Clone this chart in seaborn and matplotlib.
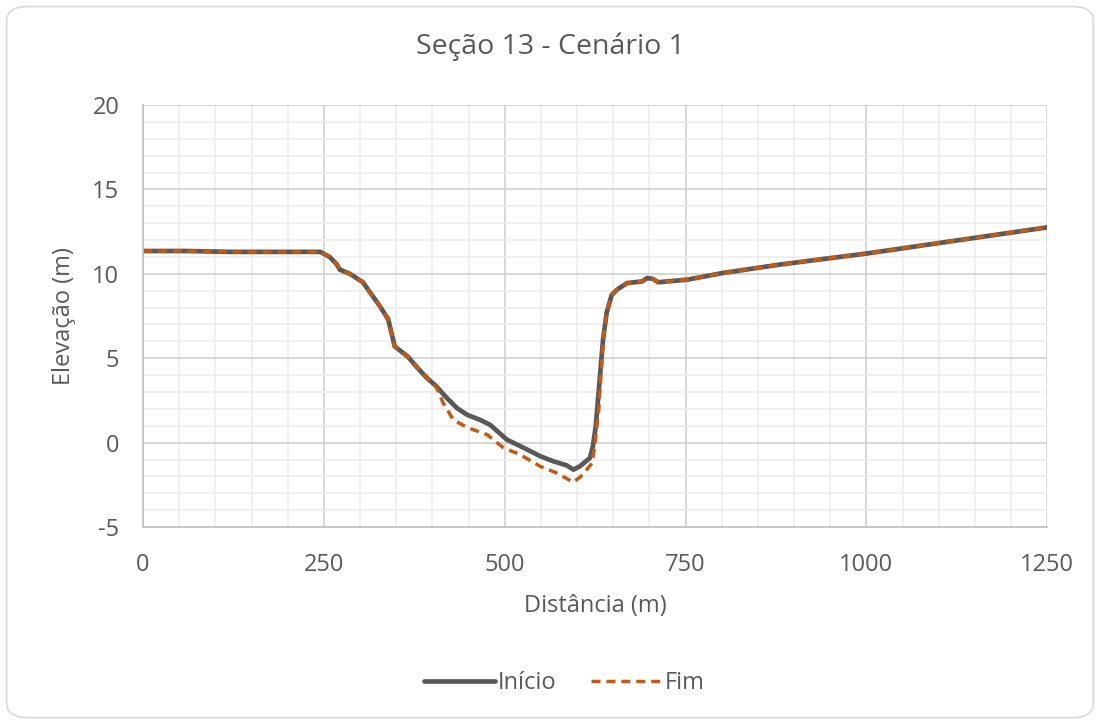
import numpy as np
import pandas as pd
import matplotlib
matplotlib.use("Agg")
import matplotlib.pyplot as plt
from matplotlib.patches import FancyBboxPatch
from matplotlib.ticker import MultipleLocator, FuncFormatter
import seaborn as sns

# === Data ===
inicio_x = [0, 60, 120, 180, 245, 258, 268, 272, 286, 304, 318, 328, 339, 348, 366,
            378, 392, 404, 420, 434, 448, 466, 480, 503, 526, 549, 567, 586, 595,
            604, 618, 622, 626, 629, 636, 641, 648, 655, 669, 690, 697, 705, 712,
            752, 802, 881, 1000, 1250]
inicio_y = [11.35, 11.35, 11.3, 11.3, 11.3, 11.0, 10.55, 10.25, 10.0, 9.5, 8.65, 8.05,
            7.3, 5.7, 5.1, 4.5, 3.85, 3.4, 2.65, 2.05, 1.65, 1.35, 1.05, 0.18, -0.3,
            -0.8, -1.1, -1.35, -1.6, -1.4, -0.9, -0.2, 1.0, 2.55, 6.1, 7.7, 8.75,
            9.05, 9.45, 9.55, 9.75, 9.7, 9.5, 9.65, 10.05, 10.55, 11.2, 12.75]

fim_x = [0, 60, 120, 180, 245, 258, 268, 272, 286, 304, 318, 328, 339, 348, 366,
         378, 392, 400, 406, 415, 429, 448, 476, 498, 521, 549, 572, 595, 608,
         621, 625, 630, 636, 641, 648, 655, 669, 690, 697, 705, 712, 752, 802,
         881, 1000, 1250]
fim_y = [11.35, 11.35, 11.3, 11.3, 11.3, 11.0, 10.55, 10.25, 10.0, 9.5, 8.65, 8.05,
         7.3, 5.7, 5.1, 4.5, 3.85, 3.55, 3.25, 2.35, 1.35, 0.9, 0.47, -0.3, -0.7,
         -1.4, -1.8, -2.35, -1.9, -1.2, 0.0, 1.95, 6.0, 7.7, 8.75, 9.05, 9.45, 9.55,
         9.75, 9.7, 9.5, 9.65, 10.05, 10.55, 11.2, 12.75]

TITLE = "Seção 13 - Cenário 1"
XLABEL = "Distância (m)"
YLABEL = "Elevação (m)"
LABELS = ["Início", "Fim"]

# === Style ===
sns.set_style("white")
plt.rcParams["font.family"] = ["Open Sans", "DejaVu Sans"]
TXT = "#595959"

df_inicio = pd.DataFrame({"x": inicio_x, "y": inicio_y})
df_fim = pd.DataFrame({"x": fim_x, "y": fim_y})

fig = plt.figure(figsize=(11, 7.22), dpi=100)
ax = fig.add_axes([0.130, 0.270, 0.822, 0.5846])

sns.lineplot(data=df_inicio, x="x", y="y", ax=ax, sort=False, color="#595959",
             linewidth=3.4, label=LABELS[0], solid_capstyle="round")
sns.lineplot(data=df_fim, x="x", y="y", ax=ax, sort=False, color="#c55a11",
             linewidth=2.5, linestyle=(0, (2.6, 1.7)), label=LABELS[1])

ax.set_xlim(0, 1250)
ax.set_ylim(-5, 20)
ax.xaxis.set_major_locator(MultipleLocator(250))
ax.xaxis.set_minor_locator(MultipleLocator(50))
ax.yaxis.set_major_locator(MultipleLocator(5))
ax.yaxis.set_minor_locator(MultipleLocator(1))
ax.yaxis.set_major_formatter(FuncFormatter(lambda v, p: f"{v:g}"))
ax.xaxis.set_major_formatter(FuncFormatter(lambda v, p: f"{v:g}"))
ax.grid(which="major", color="#d4d4d4", linewidth=1.3)
ax.grid(which="minor", color="#ececec", linewidth=1.1)
ax.set_axisbelow(True)
for s in ["top", "right"]:
    ax.spines[s].set_visible(False)
for s in ["left", "bottom"]:
    ax.spines[s].set_color("#bfbfbf")
    ax.spines[s].set_linewidth(1.2)
ax.tick_params(which="both", length=0, labelsize=17, colors=TXT)
ax.tick_params(axis="x", pad=19)
ax.tick_params(axis="y", pad=17)

ax.set_xlabel(XLABEL, fontsize=17, color=TXT, labelpad=12)
ax.set_ylabel(YLABEL, fontsize=17, color=TXT, labelpad=12)
fig.text(0.5, 1 - 47 / 722, TITLE, ha="center", va="center", fontsize=20.5, color=TXT)

handles, labels = ax.get_legend_handles_labels()
ax.get_legend().remove()
fig.legend(handles, labels, loc="center", bbox_to_anchor=(0.513, 1 - 683 / 722), ncol=2,
           frameon=False, fontsize=17, handlelength=3.0, columnspacing=1.5,
           handletextpad=0.1, labelcolor=TXT)

# rounded chart border
fig.patches.append(FancyBboxPatch((0.006, 0.006), 0.988, 0.985,
                                  boxstyle="round,pad=0,rounding_size=0.02",
                                  transform=fig.transFigure, fill=False,
                                  edgecolor="#d9d9d9", linewidth=1.2))

fig.savefig("out.png", dpi=100)
